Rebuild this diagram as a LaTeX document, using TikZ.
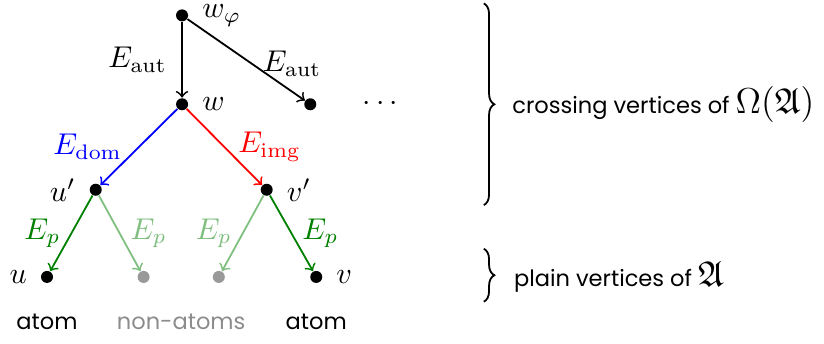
\documentclass[tikz,border=0pt]{standalone}
\usepackage{amssymb}
\usepackage{fontspec}
\newfontfamily\labelfont{Poppins}
\usetikzlibrary{decorations.pathreplacing}

\tikzset{
  vtx/.style={circle, fill=black, inner sep=0pt, minimum size=4pt},
  faintvtx/.style={circle, fill=black!40, inner sep=0pt, minimum size=4pt},
  edge/.style={->, >=to, semithick},
  txt/.style={font=\labelfont\fontsize{7.5}{9}\selectfont},
  every label/.style={label distance=1pt}
}

\begin{document}
\begin{tikzpicture}
  \useasboundingbox (0,0) rectangle (9.64,-4.013);

  % vertices
  \node[vtx, label=right:$w_\varphi$] (wphi) at (2.13,-0.18) {};
  \node[vtx, label=right:$w$] (w) at (2.13,-1.22) {};
  \node[vtx] (wr) at (3.63,-1.22) {};
  \node (more) at (4.45,-1.22) {$\cdots$};
  \node[vtx, label=left:$u'$] (u1) at (1.12,-2.22) {};
  \node[vtx, label=right:$v'$] (v1) at (3.12,-2.22) {};
  \node[vtx, label=left:$u$] (u) at (0.55,-3.24) {};
  \node[faintvtx] (na1) at (1.68,-3.24) {};
  \node[faintvtx] (na2) at (2.56,-3.24) {};
  \node[vtx, label=right:$v$] (v) at (3.70,-3.24) {};

  % edges
  \draw[edge] (wphi) -- node[left=1.5pt] {$E_{\mathrm{aut}}$} (w);
  \draw[edge] (wphi) -- node[pos=0.55, right] {$E_{\mathrm{aut}}$} (wr);
  \draw[edge, blue] (w) -- node[left=2pt] {$E_{\mathrm{dom}}$} (u1);
  \draw[edge, red] (w) -- node[right=1pt] {$E_{\mathrm{img}}$} (v1);
  \draw[edge, green!50!black] (u1) -- node[left] {$E_p$} (u);
  \draw[edge, green!50!black!50] (u1) -- node[right] {$E_p$} (na1);
  \draw[edge, green!50!black!50] (v1) -- node[left] {$E_p$} (na2);
  \draw[edge, green!50!black] (v1) -- node[right] {$E_p$} (v);

  % bottom labels
  \node[txt] (atomu) at (0.55,-3.77) {atom};
  \node[txt, text=black!45] (nonatoms) at (2.12,-3.77) {non-atoms};
  \node[txt] (atomv) at (3.70,-3.77) {atom};

  % braces
  \coordinate (btop) at (5.66,-0.04);
  \coordinate (bbot) at (5.66,-2.40);
  \coordinate (stop) at (5.66,-2.91);
  \coordinate (sbot) at (5.66,-3.53);
  \draw[semithick, decorate, decoration={brace, amplitude=3.5pt}] (btop) -- (bbot);
  \draw[semithick, decorate, decoration={brace, amplitude=3.5pt}] (stop) -- (sbot);
  \node[txt, anchor=west] (crossing) at (5.87,-1.22) {crossing vertices of {\large$\Omega(\mathfrak{A})$}};
  \node[txt, anchor=west] (plain) at (5.89,-3.24) {plain vertices of {\large$\mathfrak{A}$}};
\end{tikzpicture}
\end{document}
